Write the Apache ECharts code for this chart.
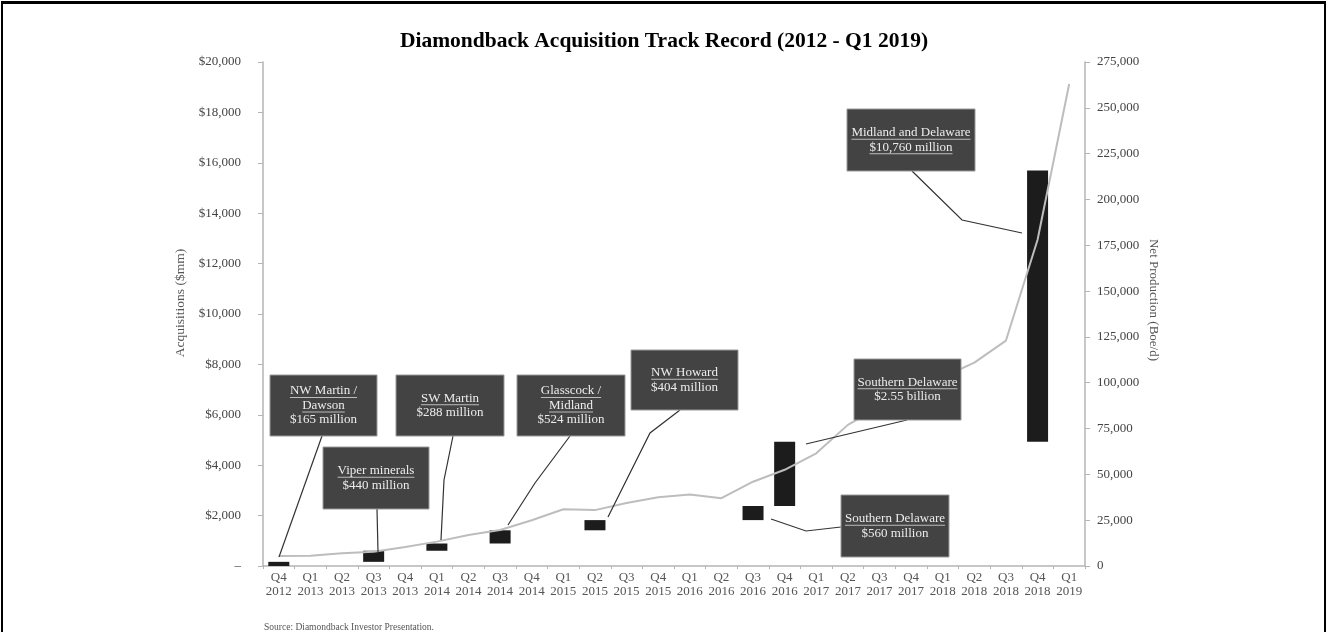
<!DOCTYPE html>
<html><head><meta charset="utf-8">
<script src="https://cdn.jsdelivr.net/npm/echarts@6/dist/echarts.min.js"></script>
<style>
html,body{margin:0;padding:0;background:#fff;overflow:hidden;}
#chart{position:absolute;left:0;top:0;width:1328px;height:632px;}
#frame{position:absolute;left:1px;top:1px;width:1325px;height:650px;border:2px solid #000;border-top-width:3px;box-sizing:border-box;pointer-events:none;}
</style></head><body>
<div id="chart"></div><div id="frame"></div>
<script>
const categories = ['Q4\n2012','Q1\n2013','Q2\n2013','Q3\n2013','Q4\n2013','Q1\n2014','Q2\n2014','Q3\n2014','Q4\n2014','Q1\n2015','Q2\n2015','Q3\n2015','Q4\n2015','Q1\n2016','Q2\n2016','Q3\n2016','Q4\n2016','Q1\n2017','Q2\n2017','Q3\n2017','Q4\n2017','Q1\n2018','Q2\n2018','Q3\n2018','Q4\n2018','Q1\n2019'];
// acquisition amount ($mm) per quarter ('-' = none)
const acquisitions = [165,'-','-',440,'-',288,'-',524,'-','-',404,'-','-','-','-',560,2550,'-','-','-','-','-','-','-',10760,'-'];
// net production (Boe/d)
const production = [5500,5600,7000,7800,10400,13300,16900,19600,25000,31000,30500,34400,37500,39000,37000,46000,52500,61500,77000,87000,95000,103000,111000,123000,178000,263000];
const leftTicks = [0,2000,4000,6000,8000,10000,12000,14000,16000,18000,20000];
const rightTicks = [0,25000,50000,75000,100000,125000,150000,175000,200000,225000,250000,275000];
const annotations = [
  {lines:['NW Martin /','Dawson','$165 million'], underline:2},
  {lines:['Viper minerals','$440 million'], underline:1},
  {lines:['SW Martin','$288 million'], underline:1},
  {lines:['Glasscock /','Midland','$524 million'], underline:2},
  {lines:['NW Howard','$404 million'], underline:1},
  {lines:['Southern Delaware','$2.55 billion'], underline:1},
  {lines:['Southern Delaware','$560 million'], underline:1},
  {lines:['Midland and Delaware','$10,760 million'], underline:2}
];

// running base for floating (waterfall) bars
let run = 0;
const acqBase = acquisitions.map(v => { if (v === '-') return '-'; const b = run; run += v; return b; });

// annotation layout (pixels)
const boxLayout = [
  {x:270,y:375,w:107,h:61, leader:[[322,436],[279,557]]},
  {x:323,y:447,w:106,h:62, leader:[[377,509],[378,552]]},
  {x:396,y:375,w:108,h:61, leader:[[453,436],[444,480],[441,540]]},
  {x:517,y:375,w:108,h:61, leader:[[570,436],[535,483],[508,525]]},
  {x:631,y:350,w:107,h:60, leader:[[680,410],[650,433],[608,517]]},
  {x:854,y:359,w:107,h:61, leader:[[907,420],[806,444]]},
  {x:841,y:495,w:108,h:62, leader:[[841,527],[806,531],[771,519]]},
  {x:847,y:109,w:128,h:62, leader:[[912,171],[962,220],[1022,233]]}
];

const FONT = '"Liberation Serif","Times New Roman",serif';
const BOXFONT = '13px ' + FONT;
const ctx = document.createElement('canvas').getContext('2d');
ctx.font = BOXFONT;

const graphics = [];
annotations.forEach((a, i) => {
  const L = boxLayout[i];
  graphics.push({type:'polyline', z:90, shape:{points:L.leader}, style:{stroke:'#333', lineWidth:1.2, fill:null}});
  graphics.push({type:'rect', z:100, shape:{x:L.x, y:L.y, width:L.w, height:L.h}, style:{fill:'#434343', stroke:'#9a9a9a', lineWidth:1}});
  const lh = 14.5;
  const cx = L.x + L.w/2, cy = L.y + L.h/2;
  const n = a.lines.length;
  a.lines.forEach((t, j) => {
    const ty = cy + (j - (n-1)/2) * lh;
    graphics.push({type:'text', z:101, style:{text:t, x:cx, y:ty, fill:'#ececec', font:BOXFONT, textAlign:'center', textVerticalAlign:'middle'}});
    if (j < a.underline) {
      const w = ctx.measureText(t).width;
      graphics.push({type:'line', z:101, shape:{x1:cx-w/2, y1:ty+6.5, x2:cx+w/2, y2:ty+6.5}, style:{stroke:'#dcdcdc', lineWidth:0.8}});
    }
  });
});
graphics.push({type:'text', z:101, style:{text:'Source: Diamondback Investor Presentation.', x:264, y:627, fill:'#555', font:'9.5px ' + FONT, textVerticalAlign:'middle'}});

const chart = echarts.init(document.getElementById('chart'), null, {renderer:'canvas'});
chart.setOption({
  animation:false,
  backgroundColor:'#fff',
  title:{text:'Diamondback Acquisition Track Record (2012 - Q1 2019)', left:'center', top:25,
    textStyle:{fontFamily:FONT, fontSize:21.5, fontWeight:'bold', color:'#000'}},
  grid:{left:263, right:243, top:62, bottom:66},
  xAxis:{type:'category', data:categories, boundaryGap:true,
    axisLine:{lineStyle:{color:'#b5b5b5', width:1.5}},
    axisTick:{show:true, length:3, lineStyle:{color:'#b5b5b5'}},
    axisLabel:{fontFamily:FONT, fontSize:13, color:'#555', lineHeight:14, margin:5, interval:0}},
  yAxis:[
    {type:'value', min:0, max:20000, interval:2000, position:'left',
     name:'Acquisitions ($mm)', nameLocation:'middle', nameGap:70, nameRotate:90,
     nameTextStyle:{fontFamily:FONT, fontSize:13.5, color:'#555', padding:[0,0,0,22]},
     axisLine:{show:true, lineStyle:{color:'#b5b5b5', width:1.5}},
     axisTick:{show:true, length:5, lineStyle:{color:'#b5b5b5'}},
     splitLine:{show:false},
     axisLabel:{fontFamily:FONT, fontSize:13, color:'#444', margin:22,
       formatter:v => v === 0 ? '–' : '$' + v.toLocaleString('en-US')}},
    {type:'value', min:0, max:275000, interval:25000, position:'right',
     name:'Net Production (Boe/d)', nameLocation:'middle', nameGap:62, nameRotate:-90, nameMoveOverlap:false,
     nameTextStyle:{fontFamily:FONT, fontSize:13, color:'#555', padding:[0,28,0,0]},
     axisLine:{show:true, lineStyle:{color:'#b5b5b5', width:1.5}},
     axisTick:{show:true, length:5, lineStyle:{color:'#b5b5b5'}},
     splitLine:{show:false},
     axisLabel:{fontFamily:FONT, fontSize:13, color:'#444', margin:12,
       formatter:v => v.toLocaleString('en-US')}}
  ],
  series:[
    {name:'base', type:'bar', stack:'acq', data:acqBase, barWidth:21, itemStyle:{color:'transparent'}, silent:true},
    {name:'Acquisitions', type:'bar', stack:'acq', data:acquisitions, barWidth:21, itemStyle:{color:'#1c1c1c'}},
    {name:'Net Production', type:'line', yAxisIndex:1, data:production, symbol:'none', z:3,
     lineStyle:{color:'#bdbdbd', width:2}}
  ],
  graphic:graphics
});
</script>
</body></html>
